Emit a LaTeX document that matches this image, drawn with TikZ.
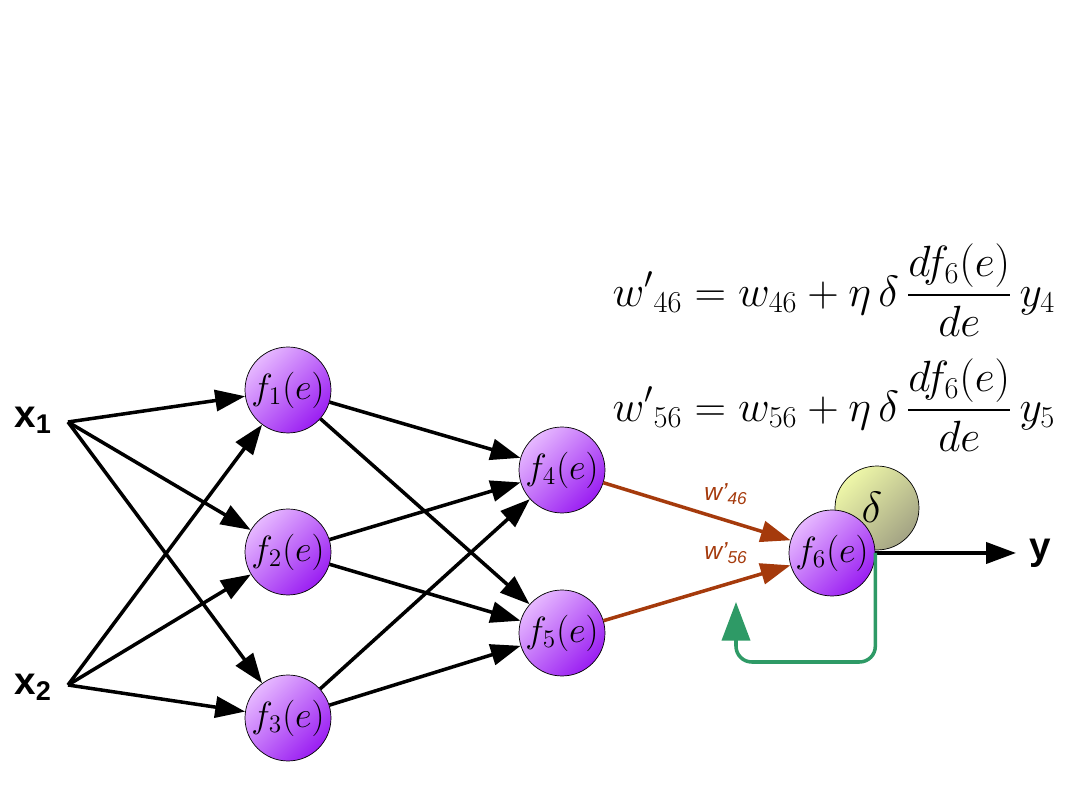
\documentclass[tikz,border=0pt]{standalone}
\usepackage{amsmath}
\usepackage{fontspec}
\setsansfont{Liberation Sans}
\usetikzlibrary{arrows.meta, positioning, calc}
\definecolor{lilaclight}{HTML}{E6B8FF}
\definecolor{lilacdark}{HTML}{9A1EF2}
\definecolor{limelight}{HTML}{EEF7A8}
\definecolor{olivegrey}{HTML}{A3A384}
\definecolor{rust}{HTML}{A53A0C}
\definecolor{teal}{HTML}{2E9A66}

\tikzset{
  neuron/.style={circle, draw=black, thin, minimum size=1.72cm, inner sep=0pt,
    shading=axis, left color=lilaclight, right color=lilacdark, shading angle=45,
    font=\fontsize{21}{21}\selectfont},
  deltanode/.style={circle, draw=black, thin, minimum size=1.68cm, inner sep=0pt,
    shading=axis, left color=limelight, right color=olivegrey, shading angle=45},
  edge/.style={-{Triangle[length=17pt, width=12pt]}, line width=2pt},
  weightedge/.style={edge, draw=rust, -{Triangle[length=17pt, width=12pt, fill=rust]}},
  feedback/.style={draw=teal, line width=2pt, rounded corners=9pt,
    -{Triangle[length=22pt, width=16pt]}},
  inlabel/.style={font=\sffamily\bfseries\fontsize{22}{22}\selectfont},
  wlabel/.style={text=rust, font=\sffamily\itshape\fontsize{14}{14}\selectfont},
  eqn/.style={font=\fontsize{23}{23}\selectfont}
}

\begin{document}
\begin{tikzpicture}[x=0.02cm, y=-0.02cm]
  \useasboundingbox (0,0) rectangle (1080,810);

  % inputs
  \node[inlabel] (x1) at (33,420) {x\textsubscript{1}};
  \node[inlabel] (x2) at (33,687) {x\textsubscript{2}};
  \coordinate (x1out) at (68,422);
  \coordinate (x2out) at (68,685);

  % hidden and output neurons
  \node[deltanode] (delta) at (877,508) {};
  \node[font=\fontsize{24}{24}\selectfont] at (872,507) {$\delta$};
  \node[neuron] (f1) at (288,390) {$f_1(e)$};
  \node[neuron] (f2) at (288,552) {$f_2(e)$};
  \node[neuron] (f3) at (288,718) {$f_3(e)$};
  \node[neuron] (f4) at (562,470) {$f_4(e)$};
  \node[neuron] (f5) at (562,633) {$f_5(e)$};
  \node[neuron] (f6) at (832,553) {$f_6(e)$};
  \node[inlabel] (ylab) at (1040,553) {y};

  % forward connections
  \foreach \src in {x1out,x2out}
    \foreach \dst in {f1,f2,f3}
      \draw[edge] (\src) -- (\dst);
  \foreach \src in {f1,f2,f3}
    \foreach \dst in {f4,f5}
      \draw[edge] (\src) -- (\dst);

  \draw[weightedge] (f4) -- (f6);
  \draw[weightedge] (f5) -- (f6);
  \node[wlabel] (w46) at (726,494) {w'\textsubscript{46}};
  \node[wlabel] (w56) at (726,553) {w'\textsubscript{56}};

  \draw[edge] (f6.east) -- (1016,553);

  % error feed back
  \coordinate (fbtip) at (736,602);
  \draw[feedback] (f6.east) -- ++(0,109) -| (fbtip);

  % update rules
  \node[eqn] (eq46) at (834,290)
    {$\displaystyle {w'}_{46} = w_{46} + \eta\,\delta\,\frac{df_6(e)}{de}\,y_4$};
  \node[eqn] (eq56) at (834,405)
    {$\displaystyle {w'}_{56} = w_{56} + \eta\,\delta\,\frac{df_6(e)}{de}\,y_5$};
\end{tikzpicture}
\end{document}
